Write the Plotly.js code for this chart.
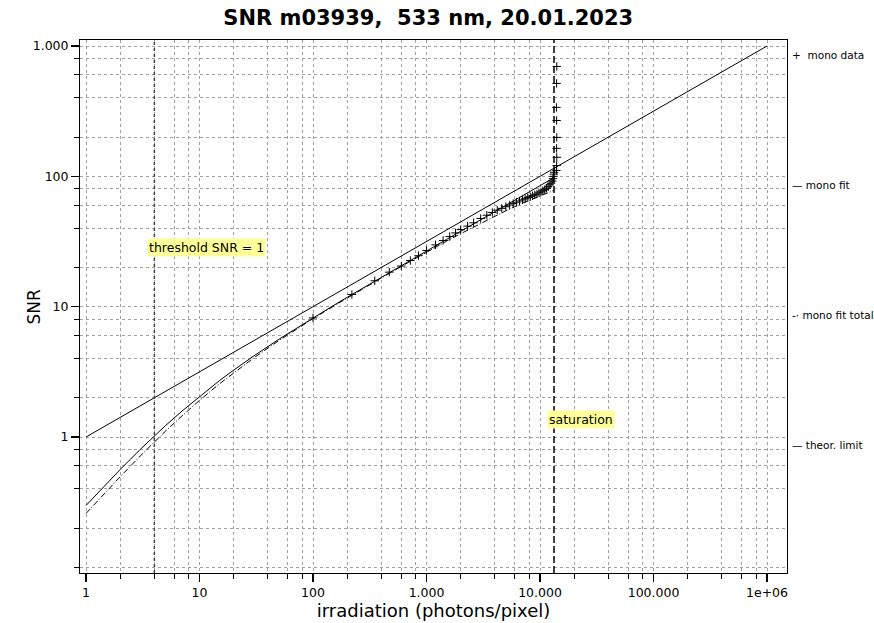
<!DOCTYPE html>
<html>
<head>
<meta charset="utf-8">
<script src="https://cdn.plot.ly/plotly-3.0.1.min.js"></script>
<style>html,body{margin:0;padding:0;background:#fff;}#chart{width:874px;height:623px;}</style>
</head>
<body>
<div id="chart"></div>
<script>
// ---- data ----
const titleText = "SNR m03939,\u00a0\u00a0533 nm, 20.01.2023";
const xTitle = "irradiation (photons/pixel)";
const yTitle = "SNR";

// theoretical limit (straight line on log-log)
const theorX = [1, 1000000];
const theorY = [1, 1000];

// mono fit (solid)
const fitX = [1, 1.5, 2, 3, 4, 5, 7, 10, 15, 20, 30, 50, 70, 100, 150, 200, 300, 500, 700, 1000, 1500, 2000, 3000, 5000, 7000, 10000, 13300];
const fitY = [0.298, 0.434, 0.563, 0.802, 1.02, 1.22, 1.58, 2.05, 2.71, 3.26, 4.18, 5.62, 6.77, 8.2, 10.16, 11.8, 14.53, 18.8, 22.34, 26.7, 32.8, 37.9, 46.4, 60.0, 71.0, 84.8, 97.8];

// mono fit total (dash-dot)
const fitTotX = [1, 1.5, 2, 3, 4, 5, 7, 10, 15, 20, 30, 50, 70, 100, 150, 200, 300, 500, 700, 1000, 1500, 2000, 3000, 5000, 7000, 10000, 13300];
const fitTotY = [0.259, 0.380, 0.496, 0.714, 0.916, 1.106, 1.45, 1.91, 2.56, 3.11, 4.04, 5.49, 6.64, 8.09, 10.04, 11.67, 14.37, 18.6, 21.97, 26.2, 31.8, 36.3, 43.7, 54.4, 62.3, 71.0, 78.1];

// mono data (markers)
const dataX = [100, 220, 350, 470, 600, 720, 850, 1000, 1200, 1400, 1600, 1800, 2000, 2300, 2600,
  3000, 3400, 3800, 4200, 4600, 5000, 5400, 5800, 6200, 6600, 7000, 7400, 7800, 8200, 8600,
  9000, 9400, 9800, 10200, 10600, 11000, 11400, 11800, 12200, 12500, 12800, 13000, 13150, 13250, 13300,
  13950, 14000, 14050, 14000, 14050, 14000, 13950, 14000, 14050];
const dataY = [8.2, 12.4, 15.8, 18.4, 20.5, 22.6, 24.6, 27.0, 29.8, 32.2, 34.5, 36.8, 39.0, 41.5, 44.0,
  47.5, 50.3, 52.8, 55.0, 56.8, 58.5, 60.2, 61.8, 63.3, 64.7, 66.0, 67.3, 68.6, 69.8, 71.0,
  72.1, 73.2, 74.6, 76.0, 77.5, 79.0, 81.0, 83.2, 86.0, 88.5, 92.0, 96.0, 100.0, 104.0, 107.5,
  111, 121, 140, 164, 199, 268, 338, 516, 697];

const thresholdX = 4;
const saturationX = 13280;

const xTickVals = [1, 10, 100, 1000, 10000, 100000, 1000000];
const xTickText = ["1", "10", "100", "1.000", "10.000", "100.000", "1e+06"];
const yTickVals = [1, 10, 100, 1000];
const yTickText = ["1", "10", "100", "1.000"];
const minorDigits = [2, 4, 6, 8];

const legendLabels = ["+\u00a0 mono data", "\u2014 mono fit", "-\u00b7 mono fit total", "\u2014 theor. limit"];

// ---- build minor tick positions ----
function minorVals(dMin, dMax, extra) {
  const out = extra.slice();
  for (let d = dMin; d <= dMax; d++) {
    minorDigits.forEach(m => out.push(m * Math.pow(10, d)));
  }
  return out;
}
const xMinor = minorVals(0, 5, []);
const yMinor = minorVals(-1, 2, [0.1]);

const font = "DejaVu Sans, Verdana, sans-serif";

const traces = [
  {x: theorX, y: theorY, mode: "lines", line: {color: "#000", width: 1}, name: "theor. limit"},
  {x: fitX, y: fitY, mode: "lines", line: {color: "#000", width: 1}, name: "mono fit"},
  {x: fitTotX, y: fitTotY, mode: "lines", line: {color: "#000", width: 1, dash: "6px,2px,1px,2px"}, name: "mono fit total"},
  {x: dataX, y: dataY, mode: "markers", name: "mono data",
   marker: {symbol: "cross-thin", size: 6, color: "#000", line: {width: 1, color: "#000"}}}
];

const axisCommon = {
  type: "log",
  showline: true, mirror: true, linecolor: "#000", linewidth: 1,
  ticks: "outside", ticklen: 8, tickwidth: 1.5, tickcolor: "#000",
  showgrid: true, gridcolor: "#a0a0a0", griddash: "dot", gridwidth: 1,
  tickmode: "array",
  tickfont: {family: font, size: 12.5, color: "#000"},
  zeroline: false
};

const layout = {
  width: 874, height: 623,
  margin: {l: 80, r: 87, t: 40, b: 50},
  paper_bgcolor: "#fff", plot_bgcolor: "#fff",
  showlegend: false,
  hovermode: false,
  title: {text: "<b>" + titleText + "</b>", font: {family: font, size: 21, color: "#000"},
          x: 0.49, xanchor: "center", y: 0.971, yanchor: "middle"},
  xaxis: Object.assign({}, axisCommon, {
    range: [-0.053, 6.176],
    tickvals: xTickVals, ticktext: xTickText,
    minor: {tickmode: "array", tickvals: xMinor, ticks: "outside", ticklen: 5, tickcolor: "#000", tickwidth: 1,
            showgrid: true, gridcolor: "#a0a0a0", griddash: "dot", gridwidth: 1},
    title: {text: xTitle, font: {family: font, size: 18, color: "#000"}, standoff: 2}
  }),
  yaxis: Object.assign({}, axisCommon, {
    range: [-1.0435, 3.046],
    tickvals: yTickVals, ticktext: yTickText,
    minor: {tickmode: "array", tickvals: yMinor, ticks: "outside", ticklen: 5, tickcolor: "#000", tickwidth: 1,
            showgrid: true, gridcolor: "#a0a0a0", griddash: "dot", gridwidth: 1}
  }),
  shapes: [
    {type: "line", xref: "x", yref: "paper", x0: thresholdX, x1: thresholdX, y0: 0, y1: 1,
     line: {color: "#444", width: 1.5, dash: "dot"}},
    {type: "line", xref: "x", yref: "paper", x0: saturationX, x1: saturationX, y0: 0, y1: 1,
     line: {color: "#000", width: 1.5, dash: "7px,3px"}}
  ],
  annotations: [
    {text: yTitle, xref: "paper", yref: "paper", x: 0, xshift: -47, y: 0.5, textangle: -90,
     xanchor: "center", yanchor: "middle", showarrow: false,
     font: {family: font, size: 17, color: "#000"}},
    {text: "threshold SNR = 1", xref: "x", yref: "y", x: Math.log10(thresholdX), y: Math.log10(28.6),
     xanchor: "left", yanchor: "middle", xshift: -7, showarrow: false,
     bgcolor: "#ffff99", borderpad: 1, font: {family: font, size: 12.5, color: "#000"}},
    {text: "saturation", xref: "x", yref: "y", x: Math.log10(saturationX), y: Math.log10(1.37),
     xanchor: "left", yanchor: "middle", xshift: -7, showarrow: false,
     bgcolor: "#ffff99", borderpad: 1, font: {family: font, size: 12.5, color: "#000"}}
  ].concat(legendLabels.map((t, i) => ({
    text: t, xref: "paper", yref: "paper", x: 1, xshift: 3, y: 0.972 - i * 0.2437,
    xanchor: "left", yanchor: "middle", showarrow: false,
    font: {family: font, size: 10.5, color: "#000"}
  })))
};

Plotly.newPlot("chart", traces, layout, {staticPlot: true, displayModeBar: false});
</script>
</body>
</html>
